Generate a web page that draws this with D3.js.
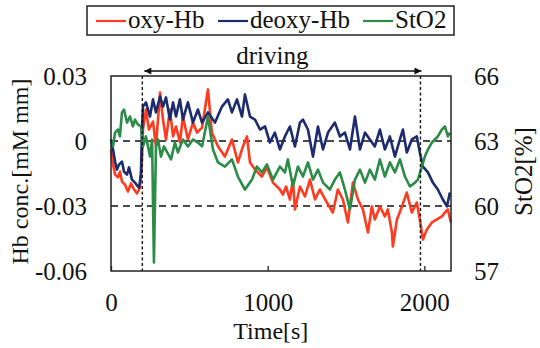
<!DOCTYPE html>
<html>
<head>
<meta charset="utf-8">
<script src="https://cdn.jsdelivr.net/npm/d3@7"></script>
</head>
<body style="margin:0">
<script>
	// readings taken off the figure, time in s
	var timeTicks = [0, 1000, 2000];
	var hbTicks = [-0.06, -0.03, 0, 0.03];
	var sto2Ticks = [57, 60, 63, 66];
	var drivingSpan = [200, 1975];
	var seriesNames = ['oxy-Hb', 'deoxy-Hb', 'StO2'];
	var seriesColors = ['#ff3a1f', '#1c2b6e', '#2b8c48'];

	var oxyHb = [[0,-0.0039],[13,-0.0109],[26,-0.0155],[45,-0.0168],[57,-0.0141],[70,-0.0187],[89,-0.0201],[108,-0.0233],
		[128,-0.0196],[147,-0.0224],[166,-0.0242],[185,-0.0215],[198,-0.0085],[204,0.0053],[223,0.0145],[242,0.0053],
		[268,0.0090],[287,-0.0025],[313,0.0224],[332,0.0099],[351,0.0007],[376,0.0145],[396,0.0021],[415,0.0067],
		[440,-0.0007],[459,0.0113],[491,0.0007],[523,0.0085],[549,0.0039],[581,0.0062],[619,0.0238],[644,0.0039],
		[683,-0.0025],[727,-0.0072],[772,0.0007],[810,-0.0099],[842,-0.0025],[868,0.0021],[887,-0.0099],[919,-0.0132],
		[963,-0.0164],[995,-0.0122],[1034,-0.0192],[1078,-0.0224],[1097,-0.0247],[1117,-0.0210],[1142,-0.0270],
		[1161,-0.0178],[1174,-0.0316],[1206,-0.0210],[1238,-0.0256],[1270,-0.0178],[1302,-0.0270],[1333,-0.0224],
		[1378,-0.0284],[1416,-0.0330],[1448,-0.0224],[1480,-0.0270],[1512,-0.0376],[1544,-0.0192],[1576,-0.0270],
		[1608,-0.0316],[1640,-0.0422],[1665,-0.0302],[1684,-0.0362],[1716,-0.0302],[1748,-0.0348],[1767,-0.0316],
		[1793,-0.0422],[1799,-0.0487],[1825,-0.0362],[1857,-0.0302],[1888,-0.0238],[1920,-0.0330],[1952,-0.0284],
		[1971,-0.0362],[1991,-0.0455],[2016,-0.0408],[2048,-0.0376],[2080,-0.0362],[2112,-0.0348],[2131,-0.0330],
		[2150,-0.0316],[2169,-0.0376]];

	var deoxyHb = [[0,0.0007],[13,-0.0039],[26,-0.0095],[38,-0.0132],[51,-0.0109],[70,-0.0095],[83,-0.0141],[102,-0.0155],
		[115,-0.0122],[134,-0.0178],[153,-0.0192],[166,-0.0205],[179,-0.0215],[191,-0.0155],[198,0.0053],[204,0.0159],
		[223,0.0178],[249,0.0113],[268,0.0192],[287,0.0132],[313,0.0205],[332,0.0159],[351,0.0201],[376,0.0099],
		[396,0.0178],[415,0.0113],[440,0.0192],[459,0.0099],[491,0.0178],[523,0.0085],[555,0.0145],[581,0.0085],
		[619,0.0132],[664,0.0085],[708,0.0159],[746,0.0192],[772,0.0132],[804,0.0192],[836,0.0113],[855,0.0215],
		[887,0.0113],[919,0.0099],[951,0.0053],[983,0.0067],[1014,-0.0007],[1046,0.0039],[1078,-0.0039],[1110,0.0021],
		[1142,0.0067],[1174,-0.0025],[1206,0.0085],[1225,0.0099],[1257,0.0053],[1289,-0.0072],[1321,0.0067],
		[1353,-0.0039],[1385,0.0039],[1429,0.0085],[1461,0.0021],[1493,0.0039],[1525,-0.0039],[1557,0.0113],
		[1589,-0.0039],[1621,0.0039],[1652,0.0007],[1684,-0.0025],[1716,0.0053],[1748,-0.0039],[1780,0.0021],
		[1812,-0.0072],[1844,0.0007],[1863,0.0053],[1888,-0.0053],[1920,0.0007],[1952,0.0021],[1971,-0.0053],
		[1991,-0.0118],[2023,-0.0145],[2054,-0.0192],[2086,-0.0224],[2118,-0.0270],[2144,-0.0302],[2163,-0.0238]];

	var stO2 = [[0,62.98],[13,62.75],[26,63.39],[45,63.53],[57,63.21],[70,64.32],[83,64.45],[102,63.85],[121,64.13],
		[140,63.67],[153,63.99],[172,63.76],[191,63.67],[204,62.75],[223,63.21],[249,62.28],[262,63.07],[274,57.39],
		[287,62.75],[300,63.07],[319,62.28],[338,62.75],[383,62.15],[408,62.93],[427,62.47],[459,63.07],[491,62.75],
		[523,63.07],[555,62.93],[581,62.75],[619,64.13],[651,62.61],[683,62.01],[727,61.82],[772,62.15],[810,61.36],
		[855,60.76],[900,61.22],[931,61.82],[963,61.55],[995,61.92],[1034,61.22],[1078,61.82],[1110,61.55],
		[1129,62.15],[1161,60.90],[1193,61.82],[1225,61.36],[1257,62.01],[1289,61.22],[1321,61.68],[1353,61.08],
		[1397,60.76],[1429,61.22],[1461,61.55],[1493,60.76],[1525,59.84],[1557,61.22],[1589,61.68],[1621,61.08],
		[1652,61.68],[1684,61.22],[1716,62.15],[1748,61.36],[1780,62.01],[1812,61.55],[1844,62.15],[1876,61.36],
		[1908,60.90],[1940,61.08],[1959,61.22],[1984,61.82],[2003,62.28],[2023,62.61],[2048,62.93],[2067,63.07],
		[2086,63.21],[2112,63.53],[2131,63.67],[2150,63.21],[2163,63.39]];

	var W = 540, H = 348;
	var margin = {top: 76, right: 89, bottom: 77, left: 111},
		width = W - margin.left - margin.right,
		height = H - margin.top - margin.bottom;

	var svg = d3.select('body').append('svg')
		.attr('width', W)
		.attr('height', H);

	var g = svg.append('g')
		.attr('transform', 'translate(' + margin.left + ',' + margin.top + ')');

	var x = d3.scaleLinear().domain([0, 2170]).range([0, width]);
	var yL = d3.scaleLinear().domain([-0.06, 0.03]).range([height, 0]);
	var yR = d3.scaleLinear().domain([57, 66]).range([height, 0]);

	// reference dashes
	g.selectAll('.hdash').data([0, -0.03]).enter().append('line')
		.attr('x1', 0).attr('x2', width)
		.attr('y1', function (d) { return yL(d); })
		.attr('y2', function (d) { return yL(d); })
		.attr('stroke', '#111').attr('stroke-width', 1.3)
		.attr('stroke-dasharray', '7,5');

	var lineL = d3.line()
		.x(function (d) { return x(d[0]); })
		.y(function (d) { return yL(d[1]); });
	var lineR = d3.line()
		.x(function (d) { return x(d[0]); })
		.y(function (d) { return yR(d[1]); });

	g.append('path').datum(oxyHb)
		.attr('fill', 'none').attr('stroke', seriesColors[0])
		.attr('stroke-width', 2.6).attr('stroke-linejoin', 'round')
		.attr('d', lineL);
	g.append('path').datum(deoxyHb)
		.attr('fill', 'none').attr('stroke', seriesColors[1])
		.attr('stroke-width', 2.6).attr('stroke-linejoin', 'round')
		.attr('d', lineL);
	g.append('path').datum(stO2)
		.attr('fill', 'none').attr('stroke', seriesColors[2])
		.attr('stroke-width', 2.6).attr('stroke-linejoin', 'round')
		.attr('d', lineR);

	// driving start / end
	g.selectAll('.vdash').data(drivingSpan).enter().append('line')
		.attr('x1', function (d) { return x(d); })
		.attr('x2', function (d) { return x(d); })
		.attr('y1', 0).attr('y2', height)
		.attr('stroke', '#111').attr('stroke-width', 1.4)
		.attr('stroke-dasharray', '3,2.5');

	g.append('rect')
		.attr('width', width).attr('height', height)
		.attr('fill', 'none').attr('stroke', '#222').attr('stroke-width', 1.5);

	// axes
	var xAxis = g.append('g')
		.attr('transform', 'translate(0,' + height + ')')
		.call(d3.axisBottom(x).tickValues(timeTicks).tickSize(-5).tickPadding(22)
			.tickFormat(function (d) { return String(d); }));
	var yAxisL = g.append('g')
		.call(d3.axisLeft(yL).tickValues(hbTicks).tickSize(0).tickPadding(24)
			.tickFormat(function (d) { return String(d); }));
	var yAxisR = g.append('g')
		.attr('transform', 'translate(' + width + ',0)')
		.call(d3.axisRight(yR).tickValues(sto2Ticks).tickSize(0).tickPadding(23));

	[xAxis, yAxisL, yAxisR].forEach(function (a) {
		a.attr('font-size', 25).attr('font-family', 'Liberation Serif');
		a.select('.domain').remove();
		a.selectAll('line').attr('stroke', '#222').attr('stroke-width', 1.3);
		a.selectAll('text').attr('fill', '#111');
	});

	g.append('text')
		.attr('x', x(1020)).attr('y', height + 68)
		.attr('text-anchor', 'middle').attr('font-size', 24).attr('fill', '#111')
		.text('Time[s]');
	g.append('text')
		.attr('transform', 'translate(' + (28 - margin.left) + ',' + (yL(-0.015) - 2) + ') rotate(-90)')
		.attr('text-anchor', 'middle').attr('font-size', 24).attr('fill', '#111')
		.text('Hb conc.[mM mm]');
	g.append('text')
		.attr('transform', 'translate(' + (532 - margin.left) + ',' + (yL(-0.015) - 2) + ') rotate(-90)')
		.attr('text-anchor', 'middle').attr('font-size', 25).attr('fill', '#111')
		.text('StO2[%]');

	// driving arrow
	var defs = svg.append('defs');
	defs.append('marker')
		.attr('id', 'head')
		.attr('viewBox', '0 0 10 10')
		.attr('refX', 10).attr('refY', 5)
		.attr('markerWidth', 9).attr('markerHeight', 7)
		.attr('markerUnits', 'userSpaceOnUse')
		.attr('orient', 'auto-start-reverse')
		.append('path').attr('d', 'M0,0L10,5L0,10z').attr('fill', '#111');

	g.append('line')
		.attr('x1', x(drivingSpan[0]) + 2).attr('x2', x(drivingSpan[1]) + 1)
		.attr('y1', -5).attr('y2', -5)
		.attr('stroke', '#111').attr('stroke-width', 1.3)
		.attr('marker-start', 'url(#head)').attr('marker-end', 'url(#head)');
	g.append('text')
		.attr('x', x(1030)).attr('y', -12)
		.attr('text-anchor', 'middle').attr('font-size', 25).attr('fill', '#111')
		.text('driving');

	// legend, entries placed as in the figure
	var legendX = [96, 218, 363];
	var legend = svg.append('g');
	legend.append('rect')
		.attr('x', 87).attr('y', 6).attr('width', 367).attr('height', 29)
		.attr('fill', '#fff').attr('stroke', '#222').attr('stroke-width', 1.5);
	seriesNames.forEach(function (name, i) {
		legend.append('line')
			.attr('x1', legendX[i]).attr('x2', legendX[i] + 30)
			.attr('y1', 21).attr('y2', 21)
			.attr('stroke', seriesColors[i]).attr('stroke-width', 2.2);
		legend.append('text')
			.attr('x', legendX[i] + 32).attr('y', 28)
			.attr('font-size', 25).attr('fill', '#111')
			.text(name);
	});

	svg.selectAll('text')
		.attr('font-family', 'Liberation Serif')
		.style('font-family', "'Liberation Serif'");
</script>
</body>
</html>
